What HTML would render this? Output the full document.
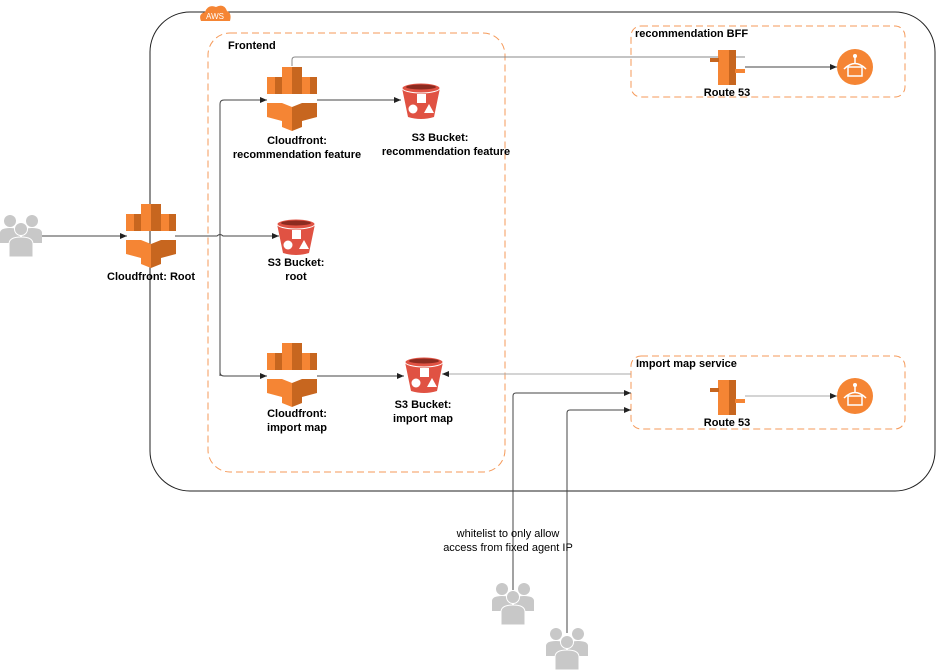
<!DOCTYPE html>
<html><head><meta charset="utf-8"><style>
html,body{margin:0;padding:0;background:#fff}
svg{display:block}
text{font-family:"Liberation Sans",Arial,sans-serif;font-size:11px;fill:#000}
.b{font-weight:bold}
</style></head><body>
<svg width="936" height="670" viewBox="0 0 936 670" xmlns="http://www.w3.org/2000/svg">
<defs>
<marker id="ar" markerWidth="8" markerHeight="8" refX="7" refY="4" orient="auto" markerUnits="userSpaceOnUse">
<path d="M0,1 L7,4 L0,7 z" fill="#222"/></marker>
<g id="cf">
<rect x="-25" y="-22" width="8" height="17" fill="#f58534"/><rect x="-17" y="-22" width="7" height="17" fill="#c7661f"/>
<rect x="-10" y="-32" width="10" height="27" fill="#f58534"/><rect x="0" y="-32" width="10" height="27" fill="#c7661f"/>
<rect x="10" y="-22" width="8" height="17" fill="#f58534"/><rect x="18" y="-22" width="7" height="17" fill="#c7661f"/>
<path d="M-25,4 L-10,4 L-10,22 L-25,18z" fill="#f58534"/><path d="M-10,4 L0,8 L0,32 L-10,28z" fill="#f58534"/>
<path d="M0,8 L10,4 L10,28 L0,32z" fill="#c7661f"/><path d="M10,4 L25,4 L25,18 L10,22z" fill="#c7661f"/>
</g>
<g id="s3">
<path d="M-19,-12 L19,-12 L13,17 Q0,21 -13,17 z" fill="#e05243"/>
<ellipse cx="0" cy="-12" rx="19" ry="5" fill="#e05243" stroke="#fff" stroke-width="1"/>
<ellipse cx="0" cy="-13" rx="15" ry="2.5" fill="#8c2b20"/>
<rect x="-4" y="-6" width="9" height="9" fill="#fff"/>
<circle cx="-8" cy="9" r="4.5" fill="#fff"/><path d="M3,13 L8,4 L13,13z" fill="#fff"/>
</g>
<g id="r53">
<rect x="-9" y="-17" width="11" height="35" fill="#f58534"/><rect x="2" y="-17" width="7" height="35" fill="#c7661f"/>
<path d="M-9,-17 L2,-14 L2,15 L-9,18z" fill="#f58534"/>
<rect x="-17" y="-9" width="9" height="4" fill="#c7661f"/><rect x="8" y="2" width="10" height="4" fill="#f58534"/>
</g>
<g id="ct">
<circle r="18" fill="#f58534"/>
<rect x="-7" y="0" width="14" height="9" fill="none" stroke="#fff" stroke-width="1.5"/>
<path d="M-11,2 Q0,-9 11,2" fill="none" stroke="#fff" stroke-width="1.5"/>
<line x1="0" y1="-10" x2="0" y2="-3" stroke="#fff" stroke-width="1.5"/><circle cx="0" cy="-11" r="2" fill="#fff"/>
</g>
<g id="us" fill="#c8c8c8">
<circle cx="-11" cy="-14" r="6"/><circle cx="11" cy="-14" r="6"/>
<path d="M-21,8 L-21,-2 Q-21,-7 -11,-7 Q-1,-7 -1,-2 L-1,8z"/><path d="M21,8 L21,-2 Q21,-7 11,-7 Q1,-7 1,-2 L1,8z"/>
<circle cx="0" cy="-6" r="6.5" stroke="#fff" stroke-width="1"/>
<path d="M-12,22 L-12,9 Q-12,2 0,2 Q12,2 12,9 L12,22z" stroke="#fff" stroke-width="1"/>
</g>
</defs>
<rect x="150" y="12" width="785" height="479" rx="40" fill="none" stroke="#222" stroke-width="1"/>
<path d="M201,21 Q198,14 205,12 Q208,4 216,7 Q224,3 227,11 Q232,13 230,21z" fill="#f58534"/>
<text x="215" y="19" text-anchor="middle" style="fill:#fff;font-size:8px">AWS</text>
<rect x="208" y="33" width="297" height="439" rx="22" fill="none" stroke="#f59a5a" stroke-dasharray="7,4"/>
<rect x="631" y="26" width="274" height="71" rx="10" fill="none" stroke="#f59a5a" stroke-dasharray="7,4"/>
<rect x="631" y="356" width="274" height="73" rx="10" fill="none" stroke="#f59a5a" stroke-dasharray="7,4"/>
<text x="228" y="49" class="b">Frontend</text>
<text x="635" y="37" class="b">recommendation BFF</text>
<text x="636" y="367" class="b">Import map service</text>
<g stroke="#444" fill="none" stroke-width="1">
<line x1="42" y1="236" x2="127" y2="236" marker-end="url(#ar)"/>
<path d="M175,236 L217,236 Q220,233 223,236 L279,236" marker-end="url(#ar)"/>
<path d="M220,376 L220,104 Q220,100 224,100 L267,100" marker-end="url(#ar)"/>
<path d="M220,236 L220,372 Q220,376 224,376 L267,376" marker-end="url(#ar)"/>
<line x1="317" y1="100" x2="401" y2="100" marker-end="url(#ar)"/>
<path d="M292,66 L292,60 Q292,57 295,57 L745,57" stroke="#888"/>
<line x1="745" y1="67" x2="837" y2="67" marker-end="url(#ar)"/>
<line x1="317" y1="376" x2="404" y2="376" marker-end="url(#ar)"/>
<line x1="631" y1="374" x2="442" y2="374" stroke="#aaa" marker-end="url(#ar)"/>
<path d="M513,590 L513,396 Q513,393 516,393 L631,393" marker-end="url(#ar)"/>
<path d="M567,633 L567,413 Q567,410 570,410 L631,410" marker-end="url(#ar)"/>
<line x1="745" y1="396" x2="837" y2="396" stroke="#aaa" marker-end="url(#ar)"/>
</g>
<use href="#us" x="21" y="235"/>
<use href="#cf" x="151" y="236"/>
<use href="#cf" x="292" y="99"/>
<use href="#cf" x="292" y="375"/>
<use href="#s3" x="421" y="100"/>
<use href="#s3" x="296" y="236"/>
<use href="#s3" x="424" y="374"/>
<use href="#r53" x="727" y="67"/>
<use href="#r53" x="727" y="397"/>
<use href="#ct" x="855" y="67"/>
<use href="#ct" x="855" y="396"/>
<use href="#us" x="513" y="603"/>
<use href="#us" x="567" y="648"/>
<g text-anchor="middle">
<text x="297" y="144" class="b">Cloudfront:</text>
<text x="297" y="158" class="b">recommendation feature</text>
<text x="440" y="141" class="b">S3 Bucket:</text>
<text x="446" y="155" class="b">recommendation feature</text>
<text x="151" y="280" class="b">Cloudfront: Root</text>
<text x="296" y="266" class="b">S3 Bucket:</text>
<text x="296" y="280" class="b">root</text>
<text x="297" y="417" class="b">Cloudfront:</text>
<text x="297" y="431" class="b">import map</text>
<text x="423" y="408" class="b">S3 Bucket:</text>
<text x="423" y="422" class="b">import map</text>
<text x="727" y="96" class="b">Route 53</text>
<text x="727" y="426" class="b">Route 53</text>
<text x="508" y="537">whitelist to only allow</text>
<text x="508" y="551">access from fixed agent IP</text>
</g>
</svg>
</body></html>
